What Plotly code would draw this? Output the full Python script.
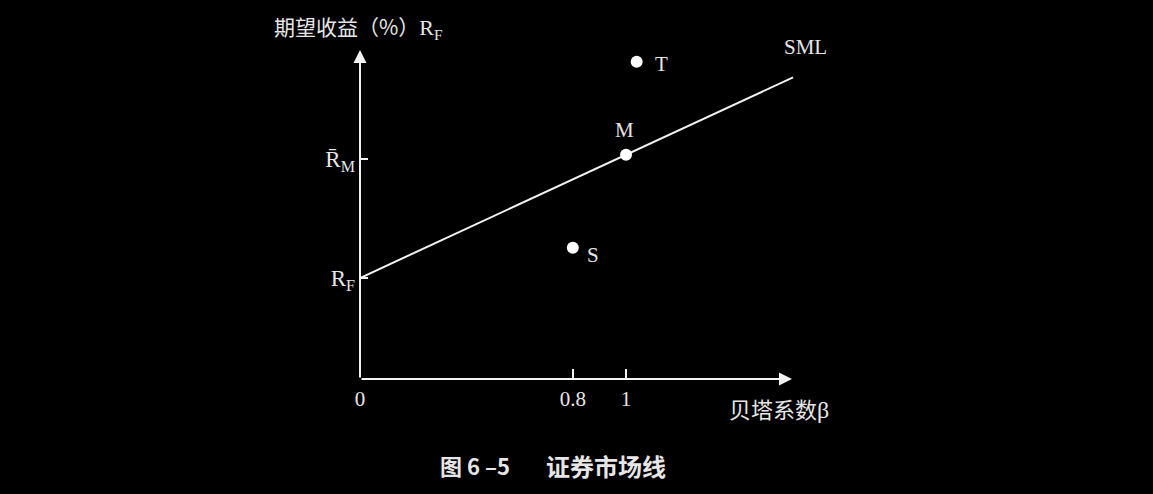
import plotly.graph_objects as go

# ---- data ----
names = ["T", "M", "S"]
betas = [1.04, 1.0, 0.8]
returns = [15.7, 11.1, 6.5]
rf = 5.0
rm = 10.9
sml_beta = [0.0, 1.628]
sml_ret = [rf, rf + (11.1 - rf) * 1.628]
x_ticks = [0, 0.8, 1]
x_tick_text = ["0", "0.8", "1"]
y_ticks = [rf, rm]
y_tick_text = ["R<sub style='font-size:14px'>F</sub>", "R\u0304<sub style='font-size:14px'>M</sub>"]

TXT = "#e6e6e6"
LINE = "#f2f2f2"
SERIF = "Liberation Serif, Times New Roman, serif"
CJK = "Noto Sans CJK SC, sans-serif"

fig = go.Figure()
fig.add_trace(go.Scatter(x=sml_beta, y=sml_ret, mode="lines",
                         line=dict(color=LINE, width=2), hoverinfo="skip"))
fig.add_trace(go.Scatter(x=betas, y=returns, mode="markers",
                         marker=dict(color="white", size=12), hoverinfo="skip"))

ann = []
# axes with arrowheads
ann.append(dict(x=1.624, y=0, ax=0, ay=0, xref="x", yref="y", axref="x", ayref="y",
                showarrow=True, arrowhead=2, arrowsize=1.3, arrowwidth=2, arrowcolor=LINE, text=""))
ann.append(dict(x=0, y=16.29, ax=0, ay=0, xref="x", yref="y", axref="x", ayref="y",
                showarrow=True, arrowhead=2, arrowsize=1.3, arrowwidth=2, arrowcolor=LINE, text=""))
# point labels
offs = {"T": (25, -2), "M": (-2, 25), "S": (20, -7)}
for n, b, r in zip(names, betas, returns):
    dx, dy = offs[n]
    ann.append(dict(x=b, y=r, text=n, showarrow=False, xshift=dx, yshift=dy,
                    font=dict(family=SERIF, size=21, color=TXT)))
ann.append(dict(x=sml_beta[1], y=sml_ret[1], text="SML", showarrow=False, xshift=12, yshift=30,
                font=dict(family=SERIF, size=21, color=TXT)))
# axis titles
ann.append(dict(x=-0.2, y=1.038, xref="paper", yref="paper", xanchor="left", yanchor="middle",
                showarrow=False,
                text="期望收益（%）<span style='font-family:Liberation Serif;font-size:22px'>R<sub style='font-size:13px'>F</sub></span>",
                font=dict(family=CJK, size=21, color=TXT)))
ann.append(dict(x=0.834, y=-0.0855, xref="paper", yref="paper", xanchor="left", yanchor="middle",
                showarrow=False, text="贝塔系数<span style='font-family:Liberation Serif;font-size:24px'>β</span>",
                font=dict(family=CJK, size=22, color=TXT)))
# caption in two parts
ann.append(dict(x=0.261, y=-0.254, xref="paper", yref="paper", xanchor="center", yanchor="middle",
                showarrow=False, text="<b>图 6 –5</b>",
                font=dict(family=CJK, size=22, color=TXT)))
ann.append(dict(x=0.559, y=-0.254, xref="paper", yref="paper", xanchor="center", yanchor="middle",
                showarrow=False, text="<b>证券市场线</b>",
                font=dict(family=CJK, size=24, color=TXT)))

fig.update_layout(
    width=1153, height=494,
    margin=dict(l=360, r=353, t=40, b=115),
    paper_bgcolor="black", plot_bgcolor="black",
    showlegend=False, annotations=ann,
    xaxis=dict(range=[0, 1.654], showgrid=False, zeroline=False, showline=False,
               tickvals=x_ticks, ticktext=x_tick_text, ticks="inside", ticklen=10,
               tickwidth=2, tickcolor=LINE, ticklabelstandoff=5,
               tickfont=dict(family=SERIF, size=21, color=TXT)),
    yaxis=dict(range=[0, 16.78], showgrid=False, zeroline=False, showline=False,
               tickvals=y_ticks, ticktext=y_tick_text, ticks="inside", ticklen=8,
               tickwidth=2, tickcolor=LINE, ticklabelstandoff=4,
               tickfont=dict(family=SERIF, size=23, color=TXT)),
)
fig.write_html("out.html", config={"displayModeBar": False},
               post_script="document.body.style.margin='0';document.body.style.background='black';")
